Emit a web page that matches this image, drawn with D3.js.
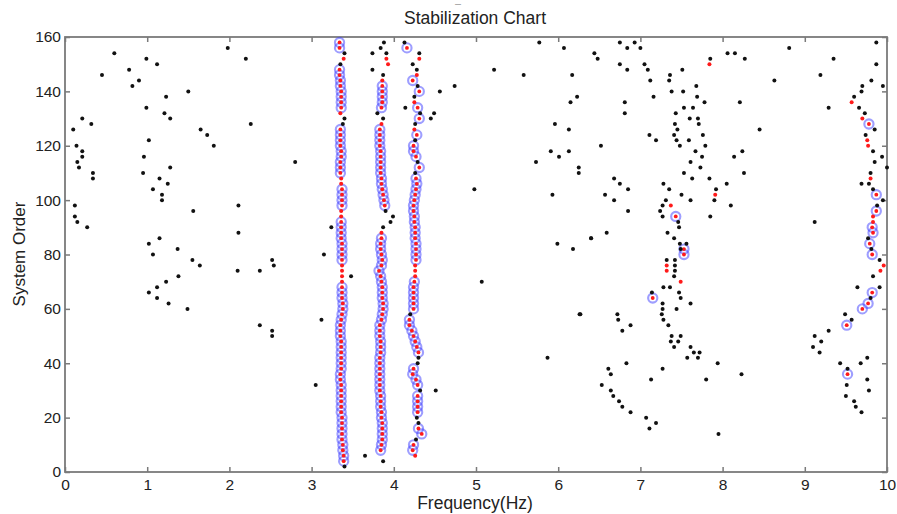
<!DOCTYPE html>
<html><head><meta charset="utf-8">
<script src="https://cdn.jsdelivr.net/npm/d3@7"></script>
<style>body{margin:0;background:#fff}svg{display:block}text{font-family:"Liberation Sans",Arial,sans-serif;fill:#222}</style>
</head><body><svg id="c" width="897" height="514"></svg>
<script>
const titleText = "Stabilization Chart";
const xLabel = "Frequency(Hz)";
const yLabel = "System Order";
const xTicks = [0,1,2,3,4,5,6,7,8,9,10];
const yTicks = [0,20,40,60,80,100,120,140,160];

// unstable poles (black dots): [frequency Hz, system order]
const unstablePoles = [
 [0.60,154],[0.45,146],[0.78,148],[0.90,144],[0.82,142],[0.99,152],[1.12,150],[1.23,138],[0.99,134],[1.21,132],[1.28,130],[1.50,140],[1.98,156],[2.20,152],[2.26,128],[1.65,126],[1.73,124],[1.81,120],[2.80,114],
 [0.10,126],[0.21,130],[0.32,128],[0.14,120],[0.21,118],[0.21,116],[0.15,114],[0.17,112],[1.02,122],[0.96,116],[1.28,112],
 [0.34,110],[0.34,108],[0.95,110],[1.15,108],[1.25,106],[1.07,104],[1.18,102],[1.18,100],[0.12,98],[0.12,94],[0.15,92],[0.27,90],[1.56,96],[2.11,98],[2.11,88],[1.02,84],[1.15,86],[1.07,80],[1.37,82],[1.55,78],[1.64,76],[1.38,72],[1.23,70],[1.12,68],[1.02,66],[1.12,64],[1.26,62],[1.49,60],[2.10,74],[2.37,74],[2.52,78],[2.54,76],[2.37,54],[2.52,52],[2.52,50],
 [3.05,32],[3.65,6],[3.24,90],[3.15,80],[3.48,72],[3.12,56],[4.51,30],[4.56,140],[4.74,142],[4.49,132],[4.45,130],[4.14,134],
 [3.40,154],[3.35,150],[3.40,130],[3.38,128],[3.40,2],
 [3.88,158],[3.84,156],[3.74,154],[3.91,154],[3.74,148],[3.87,146],[3.80,132],[3.87,130],[3.90,96],[3.99,94],[3.96,92],[3.87,90],[3.87,4],
 [4.13,158],[4.31,154],[4.23,150],[4.28,148],[4.29,142],[4.25,138],[4.32,132],[4.26,128],[4.26,122],[4.29,114],[4.26,110],[4.20,58],[4.30,42],[4.29,40],[4.32,30],[4.28,20],[4.30,18],[4.27,12],
 [5.77,158],[6.07,156],[5.22,148],[5.58,146],[6.17,146],[6.23,138],[6.15,136],[5.96,128],[6.13,126],[5.91,118],[6.01,116],[6.13,118],[5.73,114],[6.25,112],[6.25,110],[4.98,104],[5.93,102],[5.99,84],[6.18,82],[6.40,86],[5.07,70],[6.26,58],[5.87,42],[6.44,154],[6.48,152],
 [6.75,158],[6.93,158],[6.84,156],[7.00,156],[6.75,150],[7.05,150],[6.84,148],[7.09,148],[7.51,148],[7.36,146],[7.12,144],[7.35,144],[7.68,142],[7.38,140],[7.52,140],[7.16,138],[7.69,138],[6.81,136],[7.78,136],[8.21,136],[7.53,134],[7.64,134],[6.81,132],[7.43,132],[7.60,130],[7.70,130],[7.42,128],[7.71,128],[7.45,126],[8.45,126],[7.11,124],[7.41,124],[7.76,124],[7.19,122],[7.44,122],[7.59,122],[6.52,120],[7.48,120],[7.79,120],[7.67,118],[8.24,118],[7.75,116],[8.14,116],[7.61,114],[7.73,112],[7.53,110],[8.26,110],[6.68,108],[7.63,108],[7.84,108],[7.85,152],[8.06,154],[8.15,154],[8.27,152],
 [6.75,106],[7.28,106],[8.05,106],[6.85,104],[7.35,104],[7.92,104],[6.57,102],[7.50,102],[6.68,100],[7.31,100],[7.61,100],[7.90,100],[7.27,98],[8.10,98],[6.85,96],[7.24,96],[7.27,94],[7.85,94],[7.46,92],[7.47,90],[6.59,88],[7.33,88],[6.40,86],[7.41,86],[7.48,84],[7.56,84],[7.49,82],[7.32,78],[7.42,78],[7.42,76],[7.42,74],[7.41,72],[7.28,68],[7.36,68],[7.14,66],[7.47,66],[7.49,64],[7.27,62],[7.61,62],[7.27,60],[7.44,60],[6.27,58],[6.72,58],[7.26,58],[6.73,56],[7.28,56],[6.88,54],[7.34,54],[6.78,52],[7.38,50],[7.49,50],[7.37,48],[7.46,48],[7.41,46],[7.61,46],[7.65,44],[7.72,44],[7.57,42],[7.70,42],[6.83,40],[7.94,40],[6.61,38],[7.27,38],[6.64,36],[8.23,36],[7.13,34],[7.80,34],[6.53,32],[6.64,30],[6.67,28],[6.74,26],[6.78,24],[6.88,22],[7.07,20],[7.19,18],[7.11,16],[7.95,14],
 [9.87,158],[9.87,150],[9.81,144],[9.95,142],[9.70,142],[9.69,140],[9.60,138],[9.66,134],[9.73,132],[9.85,126],[9.74,124],[9.83,118],[9.94,116],[9.85,114],[10.0,112],[9.80,110],[9.69,106],[9.78,106],[9.83,104],[9.95,100],[9.88,98],[9.77,86],[9.81,82],[9.91,78],[9.83,72],[9.64,68],[9.91,68],[9.80,64],[9.49,58],[9.57,56],[9.29,52],[9.12,50],[9.20,48],[9.10,46],[9.18,44],[9.76,42],[9.43,40],[9.68,40],[9.52,38],[9.76,34],[9.51,32],[9.78,30],[9.50,28],[9.60,26],[9.62,24],[9.69,22],[9.35,152],[9.19,146],[9.29,134],[8.81,156],[8.63,144],[9.12,92]
];

// stable in frequency (red dots)
const freqStablePoles = [
 [3.39,152],[3.35,132],[3.36,108],[3.36,106],[3.36,96],[3.36,94],[3.37,76],[3.37,74],[3.37,72],[3.37,70],
 [3.91,152],[3.93,150],[3.86,144],[3.85,128],[3.85,88],
 [4.31,152],[4.28,146],[4.25,136],[4.25,126],[4.26,76],[4.26,74],[4.26,72],[4.26,6],
 [7.84,150],[7.91,102],[7.37,98],[7.32,76],[7.32,74],[7.49,70],
 [9.57,136],[9.70,130],[9.76,122],[9.77,120],[9.80,108],[9.83,94],[9.83,92],[9.96,76],[9.92,74]
];

// stable in frequency and damping (blue circle with red centre)
const fullyStablePoles = [
 [3.34,158],[3.34,156],[3.34,148],[3.34,146],[3.35,144],[3.35,142],[3.36,140],[3.36,138],[3.36,136],[3.36,134],
 [3.35,126],[3.35,124],[3.35,122],[3.35,120],[3.36,118],[3.36,116],[3.35,114],[3.35,112],[3.35,110],
 [3.37,104],[3.37,102],[3.37,100],[3.37,98],
 [3.36,92],[3.36,90],[3.36,88],[3.36,86],[3.37,84],[3.37,82],[3.37,80],[3.37,78],
 [3.37,68],[3.37,66],[3.37,64],[3.38,62],[3.38,60],[3.37,58],[3.36,56],[3.35,54],[3.35,52],[3.35,50],[3.36,48],[3.36,46],[3.36,44],[3.36,42],[3.36,40],[3.36,38],[3.35,36],[3.35,34],[3.36,32],[3.36,30],[3.36,28],[3.36,26],[3.36,24],[3.36,22],[3.37,20],[3.37,18],[3.37,16],[3.37,14],[3.37,12],[3.38,10],[3.38,8],[3.39,6],[3.39,4],
 [3.86,142],[3.86,140],[3.86,138],[3.86,136],[3.85,134],
 [3.83,126],[3.83,124],[3.83,122],[3.83,120],[3.84,118],[3.84,116],[3.84,114],[3.84,112],[3.84,110],[3.85,108],[3.85,106],[3.86,104],[3.87,102],[3.88,100],[3.89,98],
 [3.85,86],[3.84,84],[3.84,82],[3.85,80],[3.86,78],[3.85,76],[3.82,74],[3.84,72],[3.85,70],[3.86,68],[3.86,66],[3.86,64],[3.87,62],[3.87,60],[3.86,58],[3.85,56],[3.83,54],[3.83,52],[3.83,50],[3.84,48],[3.84,46],[3.84,44],[3.83,42],[3.83,40],[3.83,38],[3.83,36],[3.83,34],[3.83,32],[3.83,30],[3.84,28],[3.84,26],[3.84,24],[3.85,22],[3.85,20],[3.86,18],[3.86,16],[3.86,14],[3.86,12],[3.85,10],[3.84,8],
 [4.16,156],[4.23,144],[4.31,140],[4.29,134],[4.31,130],[4.28,124],[4.24,120],[4.24,118],[4.27,116],[4.31,112],
 [4.27,108],[4.28,106],[4.27,104],[4.26,102],[4.25,100],[4.24,98],[4.24,96],[4.25,94],[4.25,92],[4.26,90],[4.26,88],[4.26,86],[4.27,84],[4.27,82],[4.27,80],[4.27,78],
 [4.25,70],[4.24,68],[4.24,66],[4.24,64],[4.24,62],[4.24,60],
 [4.19,56],[4.19,54],[4.22,52],[4.24,50],[4.26,48],[4.28,46],[4.30,44],[4.24,38],[4.23,36],[4.27,34],[4.29,32],[4.29,28],[4.29,26],[4.29,24],[4.29,22],[4.30,16],[4.34,14],[4.24,10],[4.23,8],
 [7.43,94],[7.53,82],[7.53,80],[7.15,64],
 [9.78,128],[9.87,102],[9.87,96],[9.82,90],[9.83,88],[9.79,84],[9.82,80],[9.82,66],[9.77,62],[9.70,60],[9.51,54],[9.52,36]
];

const svg = d3.select("#c");
const m = {left:65, right:887, top:37, bottom:472};
const x = d3.scaleLinear().domain([0,10]).range([m.left, m.right]);
const y = d3.scaleLinear().domain([0,160]).range([m.bottom, m.top]);
const axisColor = "#7a7a7a";

svg.append("defs").append("filter").attr("id","soft").append("feGaussianBlur").attr("stdDeviation",0.45);

// frame
svg.append("rect").attr("x",m.left).attr("y",m.top).attr("width",m.right-m.left).attr("height",m.bottom-m.top)
  .attr("fill","none").attr("stroke",axisColor).attr("stroke-width",1.8);

function styleAxis(g){ g.select(".domain").remove(); g.selectAll(".tick line").attr("stroke",axisColor).attr("stroke-width",1.5); g.selectAll(".tick text").attr("font-size","15.5px").attr("fill","#222"); }

svg.append("g").attr("transform",`translate(0,${m.bottom})`)
  .call(d3.axisBottom(x).tickValues(xTicks).tickFormat(d3.format("d")).tickSizeInner(-5).tickPadding(7))
  .call(styleAxis);
svg.append("g").attr("transform",`translate(0,${m.top})`)
  .call(d3.axisTop(x).tickValues(xTicks).tickFormat("").tickSizeInner(-5))
  .call(styleAxis);
svg.append("g").attr("transform",`translate(${m.left},0)`)
  .call(d3.axisLeft(y).tickValues(yTicks).tickFormat(d3.format("d")).tickSizeInner(-5).tickPadding(4))
  .call(styleAxis);
svg.append("g").attr("transform",`translate(${m.right},0)`)
  .call(d3.axisRight(y).tickValues(yTicks).tickFormat("").tickSizeInner(-5))
  .call(styleAxis);

// points
const plot = svg.append("g");
plot.append("g").attr("filter","url(#soft)").selectAll("circle").data(fullyStablePoles).join("circle")
  .attr("cx",d=>x(d[0])).attr("cy",d=>y(d[1])).attr("r",4.6)
  .attr("fill","none").attr("stroke","#3c3cff").attr("stroke-opacity",0.5).attr("stroke-width",2.1);
plot.selectAll("circle.fullc").data(fullyStablePoles).join("circle").attr("class","fullc")
  .attr("cx",d=>x(d[0])).attr("cy",d=>y(d[1])).attr("r",1.9).attr("fill","#ff1a1a");
plot.selectAll("circle.red").data(freqStablePoles).join("circle").attr("class","red")
  .attr("cx",d=>x(d[0])).attr("cy",d=>y(d[1])).attr("r",2).attr("fill","#ff1a1a");
plot.selectAll("circle.blk").data(unstablePoles).join("circle").attr("class","blk")
  .attr("cx",d=>x(d[0])).attr("cy",d=>y(d[1])).attr("r",2).attr("fill","#111");

// titles
svg.append("text").attr("x",475).attr("y",24).attr("text-anchor","middle").attr("font-size","17.5px").text(titleText);
svg.append("text").attr("x",458).attr("y",6).attr("text-anchor","middle").attr("font-size","6px").text("—");
svg.append("text").attr("x",475).attr("y",509).attr("text-anchor","middle").attr("font-size","17.5px").text(xLabel);
svg.append("text").attr("transform","translate(25,254) rotate(-90)").attr("text-anchor","middle").attr("font-size","17px").text(yLabel);
</script></body></html>
